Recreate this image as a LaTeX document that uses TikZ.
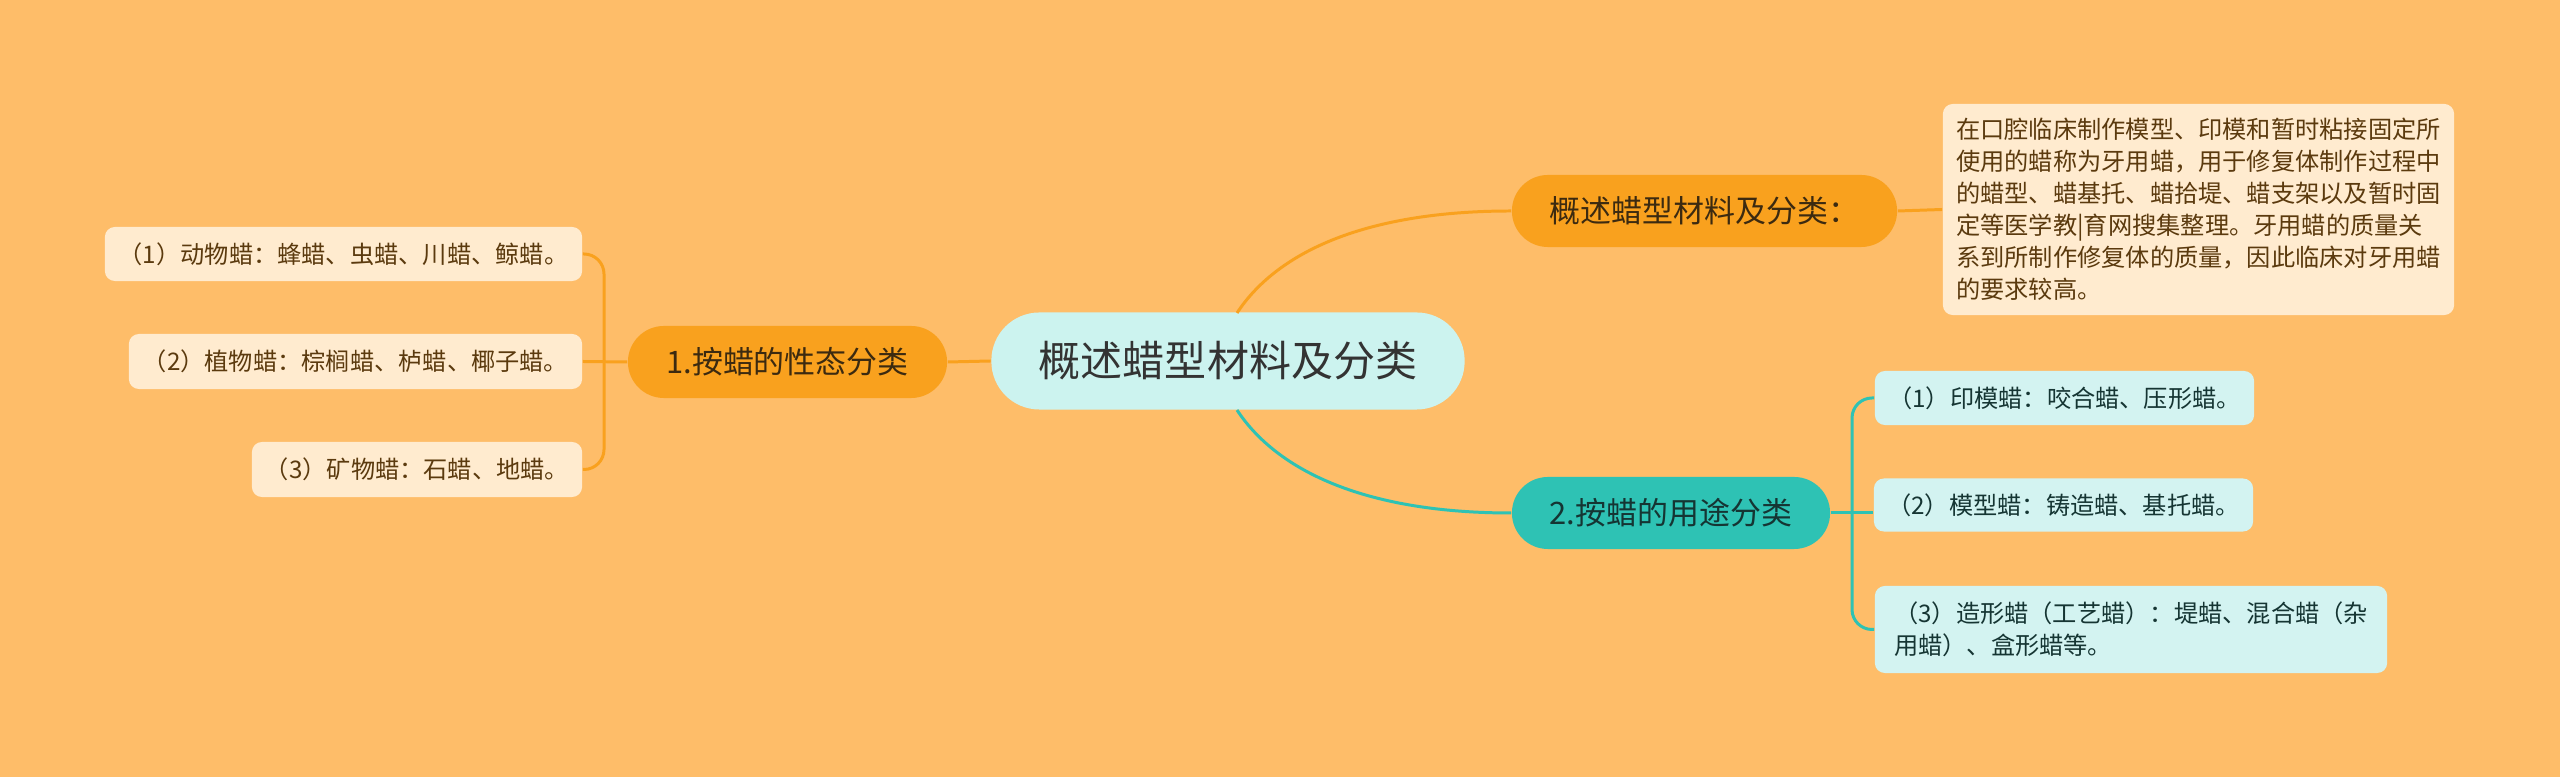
\documentclass[tikz,border=0pt]{standalone}
\usepackage{fontspec}
\setmainfont{Noto Sans CJK SC}
\definecolor{bgc}{HTML}{FEBD69}
\definecolor{orn}{HTML}{F9A11E}
\definecolor{teal2}{HTML}{2EC2B4}
\definecolor{cfill}{HTML}{CCF3EF}
\definecolor{cream}{HTML}{FFEBCF}
\definecolor{cyanbox}{HTML}{D3F3F1}
\definecolor{brownt}{HTML}{5B3A0E}
\definecolor{darkt}{HTML}{333333}
\definecolor{otext}{HTML}{3C2A10}
\definecolor{ttext}{HTML}{153533}
\begin{document}
\begin{tikzpicture}[x=0.01cm,y=-0.01cm,
  box/.style={inner sep=0pt, align=center},
  centralnode/.style={box, fill=cfill, rounded corners=0.48cm, text=darkt,
    font=\fontsize{11.95}{14}\selectfont},
  obranch/.style={box, fill=orn, rounded corners=0.36cm, text=otext,
    font=\fontsize{8.8}{10.5}\selectfont, minimum height=0.72cm},
  tbranch/.style={box, fill=teal2, rounded corners=0.36cm, text=ttext,
    font=\fontsize{8.8}{10.5}\selectfont, minimum height=0.72cm},
  creambox/.style={box, fill=cream, rounded corners=0.1cm, text=brownt,
    font=\fontsize{6.89}{9.1}\selectfont},
  cyanleaf/.style={box, fill=cyanbox, rounded corners=0.1cm, text=ttext,
    font=\fontsize{6.89}{9.1}\selectfont},
  oline/.style={draw=orn, line width=0.85pt},
  tline/.style={draw=teal2, line width=0.85pt}]
\fill[bgc] (0,0) rectangle (2560,777);
\useasboundingbox (0,0) rectangle (2560,777);

% coordinates
\coordinate (ct) at (1237,313);
\coordinate (cb) at (1237,410);
\coordinate (jl) at (604,362);
\coordinate (jr) at (1852,513);

% nodes
\node[centralnode, minimum width=4.73cm, minimum height=0.97cm] (c) at (1228,361) {概述蜡型材料及分类};
\node[obranch, minimum width=3.19cm] (b1) at (787.5,362) {1.按蜡的性态分类};
\node[obranch, minimum width=3.85cm] (bt) at (1704.5,211) {概述蜡型材料及分类：};
\node[tbranch, minimum width=3.18cm] (b2) at (1671,513) {2.按蜡的用途分类};

\node[creambox, align=left, minimum width=5.11cm, minimum height=2.11cm] (tb) at (2198.5,209.5)
 {在口腔临床制作模型、印模和暂时粘接固定所\\
  使用的蜡称为牙用蜡，用于修复体制作过程中\\
  的蜡型、蜡基托、蜡拾堤、蜡支架以及暂时固\\
  定等医学教|育网搜集整理。牙用蜡的质量关\\
  系到所制作修复体的质量，因此临床对牙用蜡\\
  的要求较高。};

\node[creambox, minimum width=4.77cm, minimum height=0.54cm] (l1) at (343.5,254) {（1）动物蜡：蜂蜡、虫蜡、川蜡、鲸蜡。};
\node[creambox, minimum width=4.53cm, minimum height=0.55cm] (l2) at (355.5,361.5) {（2）植物蜡：棕榈蜡、栌蜡、椰子蜡。};
\node[creambox, minimum width=3.30cm, minimum height=0.55cm] (l3) at (417,469.5) {（3）矿物蜡：石蜡、地蜡。};

\node[cyanleaf, minimum width=3.79cm, minimum height=0.54cm] (r1) at (2064.5,398) {（1）印模蜡：咬合蜡、压形蜡。};
\node[cyanleaf, minimum width=3.79cm, minimum height=0.53cm] (r2) at (2063.5,505) {（2）模型蜡：铸造蜡、基托蜡。};
\node[cyanleaf, align=left, minimum width=5.12cm, minimum height=0.87cm] (r3) at (2131,629.5)
 {（3）造形蜡（工艺蜡）：堤蜡、混合蜡（杂\\用蜡）、盒形蜡等。};

% connectors
\draw[oline] (c.west) -- (b1.east);
\draw[oline] (ct) .. controls (1275,255) and (1360,211) .. (bt.west);
\draw[tline] (cb) .. controls (1275,468) and (1360,513) .. (b2.west);
\draw[oline] (bt.east) -- (tb.west);

\draw[oline] (l2.east) -- (b1.west);
\draw[oline, rounded corners=0.2cm] (l1.east) -| (jl);
\draw[oline, rounded corners=0.2cm] (l3.east) -| (jl);

\draw[tline] (b2.east) -- (b2.east -| r2.west);
\draw[tline, rounded corners=0.2cm] (r1.west) -| (jr);
\draw[tline, rounded corners=0.2cm] (r3.west) -| (jr);
\end{tikzpicture}
\end{document}
